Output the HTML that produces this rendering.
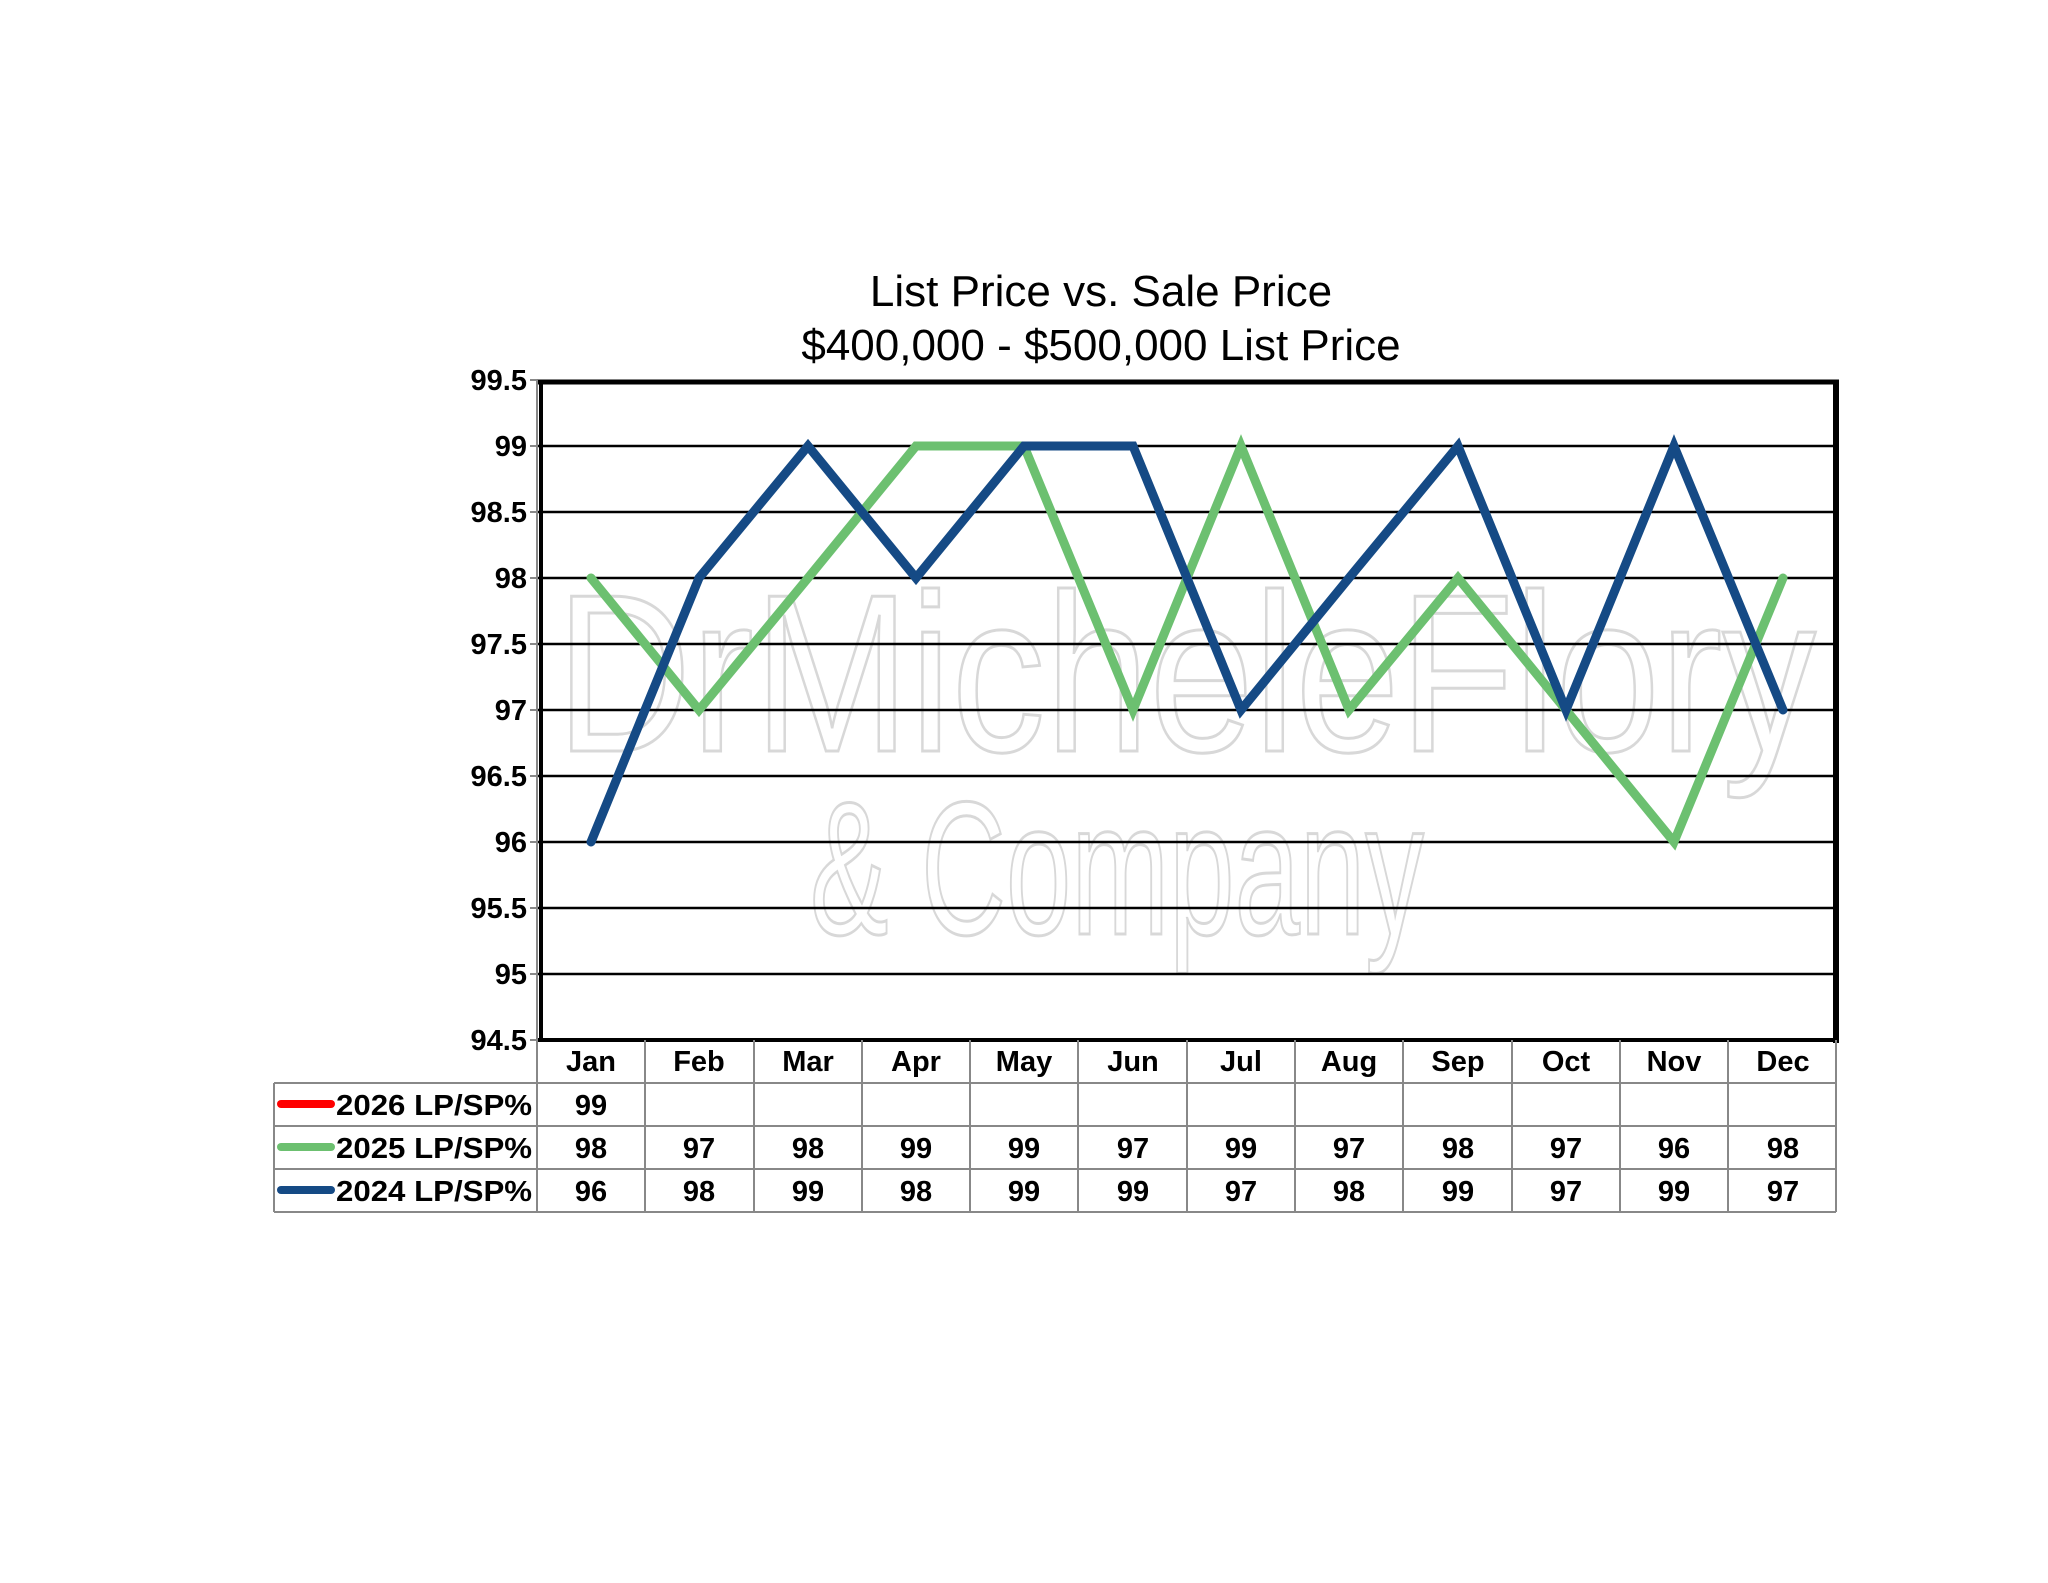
<!DOCTYPE html>
<html><head><meta charset="utf-8"><style>
html,body{margin:0;padding:0;background:#fff;}
svg{display:block;}
text{font-family:"Liberation Sans",Arial,sans-serif;}
</style></head><body>
<svg width="2048" height="1583" viewBox="0 0 2048 1583" xmlns="http://www.w3.org/2000/svg">
<rect width="2048" height="1583" fill="#fff"/>
<!-- title -->
<text x="1101" y="306" font-size="44" text-anchor="middle" fill="#000">List Price vs. Sale Price</text>
<text x="1101" y="360" font-size="44" text-anchor="middle" fill="#000">$400,000 - $500,000  List Price</text>
<!-- watermark -->
<g fill="none" stroke="#d8d8d8" stroke-width="3">
<text x="556" y="751" font-size="225" textLength="1260" lengthAdjust="spacingAndGlyphs">DrMicheleFlory</text>
<text x="810" y="934" font-size="190" textLength="614" lengthAdjust="spacingAndGlyphs">&amp; Company</text>
</g>
<!-- gridlines -->
<g stroke="#000" stroke-width="2.5">
<line x1="537" x2="1836" y1="446" y2="446"/>
<line x1="537" x2="1836" y1="512" y2="512"/>
<line x1="537" x2="1836" y1="578" y2="578"/>
<line x1="537" x2="1836" y1="644" y2="644"/>
<line x1="537" x2="1836" y1="710" y2="710"/>
<line x1="537" x2="1836" y1="776" y2="776"/>
<line x1="537" x2="1836" y1="842" y2="842"/>
<line x1="537" x2="1836" y1="908" y2="908"/>
<line x1="537" x2="1836" y1="974" y2="974"/>
</g>
<!-- ticks -->
<g stroke="#888" stroke-width="2">
<line x1="530" x2="537" y1="380" y2="380"/><line x1="530" x2="537" y1="446" y2="446"/>
<line x1="530" x2="537" y1="512" y2="512"/><line x1="530" x2="537" y1="578" y2="578"/>
<line x1="530" x2="537" y1="644" y2="644"/><line x1="530" x2="537" y1="710" y2="710"/>
<line x1="530" x2="537" y1="776" y2="776"/><line x1="530" x2="537" y1="842" y2="842"/>
<line x1="530" x2="537" y1="908" y2="908"/><line x1="530" x2="537" y1="974" y2="974"/>
<line x1="530" x2="537" y1="1040" y2="1040"/>
</g>
<!-- frame -->
<line x1="537" y1="382" x2="1839" y2="382" stroke="#000" stroke-width="5"/>
<line x1="1836" y1="380" x2="1836" y2="1043" stroke="#000" stroke-width="6"/>
<line x1="537" y1="1040" x2="1839" y2="1040" stroke="#000" stroke-width="4"/>
<line x1="537" y1="380" x2="537" y2="1042" stroke="#888" stroke-width="2"/>
<line x1="541" y1="380" x2="541" y2="1042" stroke="#000" stroke-width="4"/>
<!-- y labels -->
<g font-size="29" font-weight="bold" text-anchor="end" fill="#000">
<text x="527" y="390">99.5</text><text x="527" y="456">99</text>
<text x="527" y="522">98.5</text><text x="527" y="588">98</text>
<text x="527" y="654">97.5</text><text x="527" y="720">97</text>
<text x="527" y="786">96.5</text><text x="527" y="852">96</text>
<text x="527" y="918">95.5</text><text x="527" y="984">95</text>
<text x="527" y="1050">94.5</text>
</g>
<!-- series -->
<polyline fill="none" stroke="#6cc070" stroke-width="9" stroke-linejoin="miter" stroke-linecap="round"
 points="591,578 699,710 808,578 916,446 1024,446 1133,710 1241,446 1349,710 1458,578 1566,710 1674,842 1783,578"/>
<polyline fill="none" stroke="#154a85" stroke-width="9" stroke-linejoin="miter" stroke-linecap="round"
 points="591,842 699,578 808,446 916,578 1024,446 1133,446 1241,710 1349,578 1458,446 1566,710 1674,446 1783,710"/>
<!-- table -->
<g stroke="#888" stroke-width="2" fill="none">
<line x1="274" x2="1836" y1="1083" y2="1083"/>
<line x1="274" x2="1836" y1="1126" y2="1126"/>
<line x1="274" x2="1836" y1="1169" y2="1169"/>
<line x1="274" x2="1836" y1="1212" y2="1212"/>
<line x1="274" x2="274" y1="1083" y2="1212"/>
<line x1="537" x2="537" y1="1040" y2="1212"/>
<line x1="645" x2="645" y1="1040" y2="1212"/><line x1="754" x2="754" y1="1040" y2="1212"/>
<line x1="862" x2="862" y1="1040" y2="1212"/><line x1="970" x2="970" y1="1040" y2="1212"/>
<line x1="1078" x2="1078" y1="1040" y2="1212"/><line x1="1187" x2="1187" y1="1040" y2="1212"/>
<line x1="1295" x2="1295" y1="1040" y2="1212"/><line x1="1403" x2="1403" y1="1040" y2="1212"/>
<line x1="1512" x2="1512" y1="1040" y2="1212"/><line x1="1620" x2="1620" y1="1040" y2="1212"/>
<line x1="1728" x2="1728" y1="1040" y2="1212"/><line x1="1836" x2="1836" y1="1040" y2="1212"/>
</g>
<g font-size="29" font-weight="bold" text-anchor="middle" fill="#000">
<text x="591" y="1071">Jan</text><text x="699" y="1071">Feb</text><text x="808" y="1071">Mar</text>
<text x="916" y="1071">Apr</text><text x="1024" y="1071">May</text><text x="1133" y="1071">Jun</text>
<text x="1241" y="1071">Jul</text><text x="1349" y="1071">Aug</text><text x="1458" y="1071">Sep</text>
<text x="1566" y="1071">Oct</text><text x="1674" y="1071">Nov</text><text x="1783" y="1071">Dec</text>
<text x="591" y="1115">99</text>
<text x="591" y="1158">98</text><text x="699" y="1158">97</text><text x="808" y="1158">98</text>
<text x="916" y="1158">99</text><text x="1024" y="1158">99</text><text x="1133" y="1158">97</text>
<text x="1241" y="1158">99</text><text x="1349" y="1158">97</text><text x="1458" y="1158">98</text>
<text x="1566" y="1158">97</text><text x="1674" y="1158">96</text><text x="1783" y="1158">98</text>
<text x="591" y="1201">96</text><text x="699" y="1201">98</text><text x="808" y="1201">99</text>
<text x="916" y="1201">98</text><text x="1024" y="1201">99</text><text x="1133" y="1201">99</text>
<text x="1241" y="1201">97</text><text x="1349" y="1201">98</text><text x="1458" y="1201">99</text>
<text x="1566" y="1201">97</text><text x="1674" y="1201">99</text><text x="1783" y="1201">97</text>
</g>
<g stroke-width="8" stroke-linecap="round">
<line x1="281" x2="331" y1="1104" y2="1104" stroke="#ff0000"/>
<line x1="281" x2="331" y1="1147" y2="1147" stroke="#6cc070"/>
<line x1="281" x2="331" y1="1190" y2="1190" stroke="#154a85"/>
</g>
<g font-size="29" font-weight="bold" fill="#000">
<text x="336" y="1115" textLength="196" lengthAdjust="spacingAndGlyphs">2026 LP/SP%</text>
<text x="336" y="1158" textLength="196" lengthAdjust="spacingAndGlyphs">2025 LP/SP%</text>
<text x="336" y="1201" textLength="196" lengthAdjust="spacingAndGlyphs">2024 LP/SP%</text>
</g>
</svg>
</body></html>
